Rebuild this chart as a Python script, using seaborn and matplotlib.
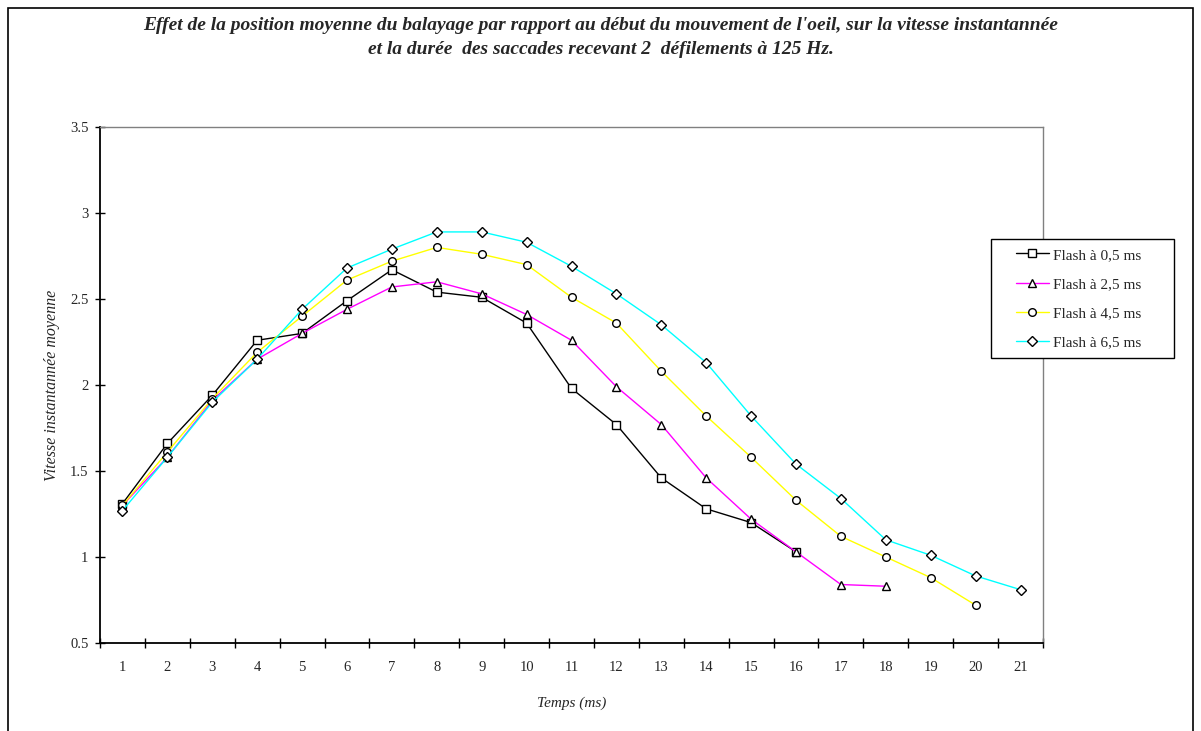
import pandas as pd
import matplotlib
matplotlib.use('Agg')
import matplotlib.pyplot as plt
import matplotlib.patches as patches
import seaborn as sns
from matplotlib.ticker import FixedLocator, FormatStrFormatter, NullFormatter

# mean instantaneous velocity per ms, one list per flash position
temps = list(range(1, 22))
flash_05 = [1.31, 1.66, 1.94, 2.26, 2.30, 2.49, 2.67, 2.54, 2.51, 2.36, 1.98, 1.77, 1.46, 1.28, 1.20, 1.03]
flash_25 = [1.30, 1.58, 1.91, 2.15, 2.30, 2.44, 2.57, 2.60, 2.53, 2.41, 2.26, 1.99, 1.77, 1.46, 1.22, 1.03, 0.84, 0.83]
flash_45 = [1.30, 1.61, 1.92, 2.19, 2.40, 2.61, 2.72, 2.80, 2.76, 2.70, 2.51, 2.36, 2.08, 1.82, 1.58, 1.33, 1.12, 1.00, 0.88, 0.72]
flash_65 = [1.27, 1.58, 1.90, 2.15, 2.44, 2.68, 2.79, 2.89, 2.89, 2.83, 2.69, 2.53, 2.35, 2.13, 1.82, 1.54, 1.34, 1.10, 1.01, 0.89, 0.81]

labels = ['Flash à 0,5 ms', 'Flash à 2,5 ms', 'Flash à 4,5 ms', 'Flash à 6,5 ms']
series = [flash_05, flash_25, flash_45, flash_65]
colors = ['black', '#ff00ff', '#ffff00', '#00ffff']
markers = ['s', '^', 'o', 'D']
msizes = [5.5, 6, 5.5, 4.8]

rows = []
for lab, vals in zip(labels, series):
    for t, v in zip(temps, vals):
        rows.append({'temps': t, 'vitesse': v, 'serie': lab})
df = pd.DataFrame(rows)

sns.set_style('white')
plt.rcParams['font.family'] = ['Liberation Serif', 'DejaVu Serif']

W, H = 1201, 731
fig = plt.figure(figsize=(W / 100, H / 100), dpi=100)
ax = fig.add_axes([100 / W, 88 / H, 943 / W, 516 / H])

for lab, col, mk, ms in zip(labels, colors, markers, msizes):
    sns.lineplot(data=df[df.serie == lab], x='temps', y='vitesse', color=col, marker=mk,
                 markersize=ms, markerfacecolor='white', markeredgecolor='black',
                 markeredgewidth=1.0, linewidth=1.0, ax=ax, label=lab, legend=False)

ax.set_xlim(0.5, 21.5)
ax.set_ylim(0.5, 3.5)

ax.xaxis.set_major_locator(FixedLocator([k + 0.5 for k in range(0, 22)]))
ax.xaxis.set_major_formatter(NullFormatter())
ax.xaxis.set_minor_locator(FixedLocator(temps))
ax.set_xticklabels([str(t) for t in temps], minor=True)
ax.tick_params(axis='x', which='major', direction='inout', length=6.5, width=1, color='black', bottom=True)
ax.tick_params(axis='x', which='minor', length=0, labelsize=10.5, pad=13)

ax.set_yticks([0.5, 1, 1.5, 2, 2.5, 3, 3.5])
ax.yaxis.set_major_formatter(FormatStrFormatter('%g'))
ax.tick_params(axis='y', direction='inout', length=6.5, width=1, color='black', left=True, labelsize=10.5, pad=5)

for s in ['left', 'bottom']:
    ax.spines[s].set_color('black')
    ax.spines[s].set_linewidth(1.3)
for s in ['top', 'right']:
    ax.spines[s].set_color('#808080')
    ax.spines[s].set_linewidth(1.0)

ax.set_xlabel('Temps (ms)', fontstyle='italic', fontsize=11)
ax.set_ylabel('Vitesse instantannée moyenne', fontstyle='italic', fontsize=11.5)
ax.xaxis.set_label_coords(0.5, -(697 - 643) / 516)
ax.yaxis.set_label_coords(-(100 - 60) / 943, 0.5)

# legend box drawn on its own so the padding matches the reference
fig.patches.append(patches.Rectangle((991 / W, 1 - 358 / H), 183 / W, 119 / H, transform=fig.transFigure,
                                     facecolor='white', edgecolor='black', linewidth=1.0, zorder=3))
handles = ax.get_lines()
leg = fig.legend(handles, labels, loc='upper left', bbox_to_anchor=(1016 / W, 1 - 248 / H),
                 frameon=False, fontsize=11, handlelength=2.15, labelspacing=1.02,
                 borderpad=0, handletextpad=0.28, borderaxespad=0)
leg.set_zorder(5)

title_1 = "Effet de la position moyenne du balayage par rapport au début du mouvement de l'oeil, sur la vitesse instantannée"
title_2 = "et la durée  des saccades recevant 2  défilements à 125 Hz."
fig.text(0.5, 1 - 25 / H, title_1, ha='center', va='center', fontsize=14, fontweight='bold', fontstyle='italic')
fig.text(0.5, 1 - 50 / H, title_2, ha='center', va='center', fontsize=14, fontweight='bold', fontstyle='italic')

fig.patches.append(patches.Rectangle((8 / W, -0.02), 1185 / W, 1.02 - 8 / H, transform=fig.transFigure,
                                     fill=False, edgecolor='black', linewidth=1.2))

fig.savefig('out.png', dpi=100)
